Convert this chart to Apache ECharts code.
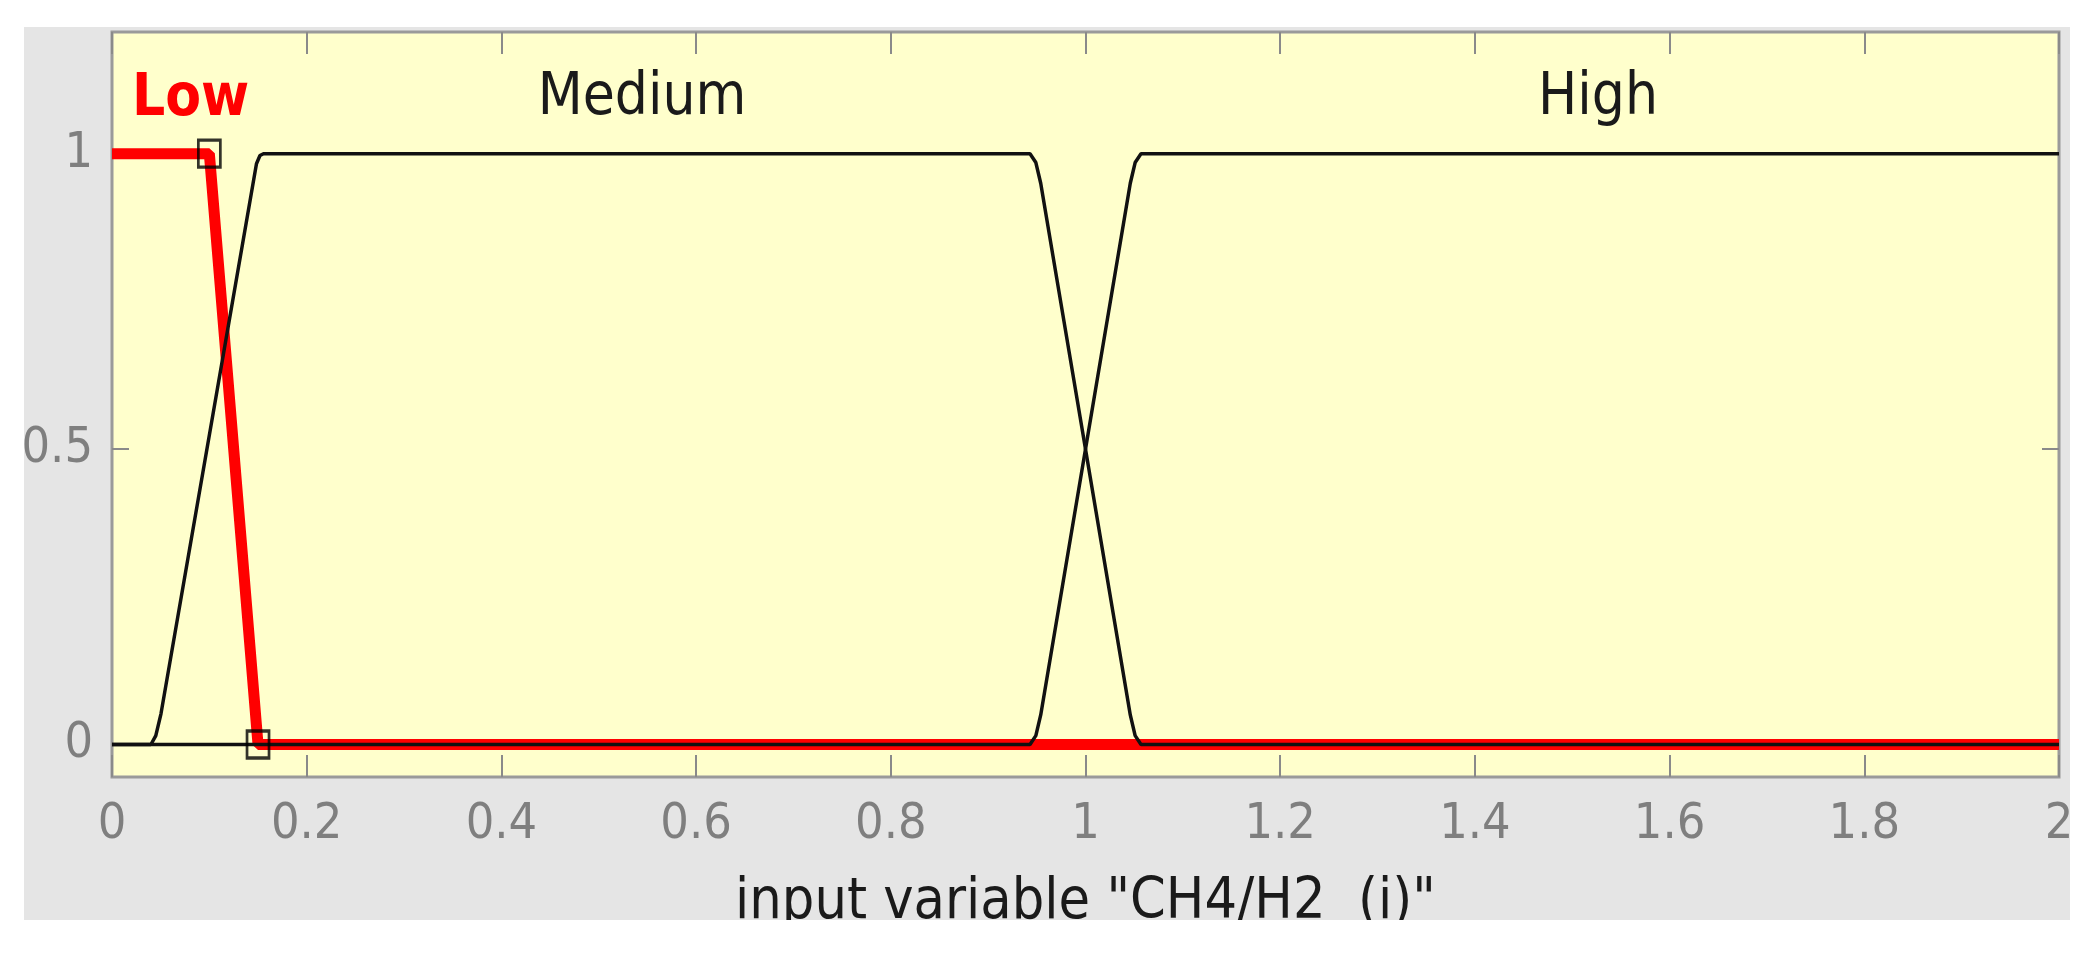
<!DOCTYPE html>
<html>
<head>
<meta charset="utf-8">
<script src="https://cdn.jsdelivr.net/npm/echarts@6/dist/echarts.min.js"></script>
<style>
  html, body { margin: 0; padding: 0; background: #fff; }
  #main { position: absolute; left: 24px; top: 27px; width: 2046px; height: 893px; background: #e5e5e5; overflow: hidden; }
</style>
</head>
<body>
<div id="main"></div>
<script>
// membership functions of input variable CH4/H2
const lowMf = [[0, 1], [0.1, 1], [0.15, 0], [2, 0]];
const mediumMf = [
  [0, 0], [0.04, 0], [0.045, 0.015], [0.0503, 0.052], [0.1484, 0.983], [0.152, 0.997], [0.1556, 1],
  [0.943, 1], [0.949, 0.985], [0.954, 0.95], [1.046, 0.05], [1.051, 0.015], [1.057, 0], [2, 0]
];
const highMf = [
  [0, 0], [0.943, 0], [0.949, 0.015], [0.954, 0.05], [1.046, 0.95], [1.051, 0.985],
  [1.057, 1], [2, 1]
];
const lowHandles = [[0.1, 1], [0.15, 0]];
const yTicks = [0, 0.5, 1];
const mfNames = ['Low', 'Medium', 'High'];
const axisTitle = 'input variable "CH4/H2  (i)"';

const fontFamily = '"DejaVu Sans Condensed", "DejaVu Sans", sans-serif';
const tickStyle = { inside: true, length: 22, lineStyle: { color: '#8a8a8a', width: 2 } };
const noLine = { show: false, onZero: false };

const chart = echarts.init(document.getElementById('main'), null, { renderer: 'canvas' });

chart.setOption({
  animation: false,
  grid: {
    left: 88, right: 11, top: 5, bottom: 143,
    outerBoundsMode: 'none', containLabel: false,
    show: true, backgroundColor: '#ffffcc', borderColor: '#9a9a9a', borderWidth: 3
  },
  xAxis: [{
    type: 'value', min: 0, max: 2, interval: 0.2, position: 'bottom',
    axisLine: noLine, splitLine: { show: false },
    axisTick: tickStyle,
    axisLabel: { color: '#7f7f7f', fontSize: 50, fontFamily: fontFamily, margin: 23 },
    name: axisTitle, nameLocation: 'middle', nameGap: 98,
    nameTextStyle: { color: '#1a1a1a', fontSize: 57, fontFamily: fontFamily }
  }, {
    type: 'value', min: 0, max: 2, interval: 0.2, position: 'top',
    axisLine: noLine, splitLine: { show: false },
    axisTick: tickStyle, axisLabel: { show: false }
  }],
  yAxis: [{
    type: 'value', min: -0.055, max: 1.206, position: 'left',
    axisLine: noLine, splitLine: { show: false },
    axisTick: Object.assign({ customValues: yTicks }, tickStyle, { length: 17 }),
    axisLabel: { customValues: yTicks, color: '#7f7f7f', fontSize: 50, fontFamily: fontFamily, margin: 19 }
  }, {
    type: 'value', min: -0.055, max: 1.206, position: 'right',
    axisLine: noLine, splitLine: { show: false },
    axisTick: Object.assign({ customValues: yTicks }, tickStyle, { length: 17 }),
    axisLabel: { show: false }
  }],
  series: [{
    name: mfNames[0], type: 'line', data: lowMf, showSymbol: false,
    lineStyle: { color: '#ff0000', width: 11 }, z: 2
  }, {
    name: mfNames[1], type: 'line', data: mediumMf, showSymbol: false,
    lineStyle: { color: '#111', width: 3.5 }, z: 3
  }, {
    name: mfNames[2], type: 'line', data: highMf, showSymbol: false,
    lineStyle: { color: '#111', width: 3.5 }, z: 3
  }, {
    type: 'scatter', data: lowHandles, symbol: 'rect', symbolSize: [22, 27],
    itemStyle: { color: 'rgba(0,0,0,0)', borderColor: '#000', borderWidth: 3 }, z: 5
  }],
  graphic: [
    { type: 'text', left: 108, top: 44, style: { text: mfNames[0], fill: '#ff0000', font: 'bold 58px ' + fontFamily } },
    { type: 'text', x: 618, y: 72, style: { text: mfNames[1], fill: '#1a1a1a', font: '58px ' + fontFamily, align: 'center', verticalAlign: 'middle' } },
    { type: 'text', x: 1574, y: 72, style: { text: mfNames[2], fill: '#1a1a1a', font: '58px ' + fontFamily, align: 'center', verticalAlign: 'middle' } }
  ]
});
</script>
</body>
</html>
